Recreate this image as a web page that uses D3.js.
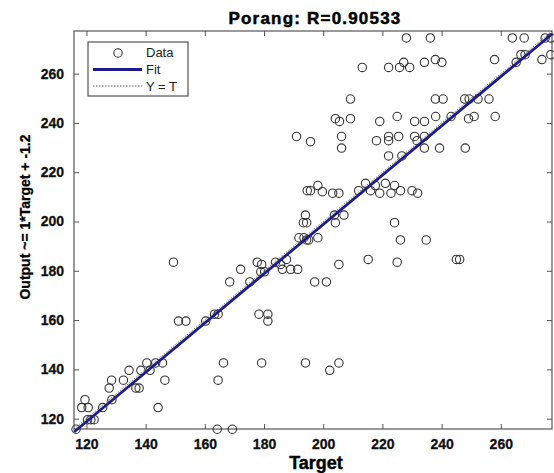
<!DOCTYPE html>
<html>
<head>
<meta charset="utf-8">
<script src="https://cdn.jsdelivr.net/npm/d3@7"></script>
<style>
  body { margin: 0; background: #fff; }
  .chart text { font-family: "Liberation Sans", Arial, sans-serif; }
</style>
</head>
<body>
<div class="chart"></div>
<script>
// values
var targets = [228.1, 236.2, 263.9, 267.9, 275, 276.9, 213.2, 222.1, 225.8, 229.2,
  227.2, 234.2, 240.1, 265.2, 237.9, 257.9, 273.9, 266.8, 268.2, 276.9,
  209.2, 237.9, 240.5, 247.8, 249.3, 252.3, 256, 204.1, 209.2, 249.1,
  205.5, 219.1, 230.9, 234.2, 225, 238, 243.2, 251, 258.1, 191,
  206.2, 222.1, 225.5, 230.9, 234.2, 218, 222.1, 231.7, 195.7, 206.2,
  234.2, 239.3, 248, 222.1, 226.6, 194.6, 195.7, 212, 216, 226.1,
  230, 198.2, 217.6, 224.1, 199.7, 203.2, 205.3, 219.1, 222.9, 231.9,
  214.3, 221, 194, 203.8, 207, 193.3, 194.4, 204.1, 224.1, 191.8,
  193.5, 198.2, 194.4, 195.1, 226.1, 234.8, 187.6, 215.2, 245, 246.1,
  149.4, 177.7, 183.9, 225, 179.2, 185.6, 205.3, 172.1, 186.2, 189,
  191.4, 178.9, 180.2, 168.4, 175.2, 197.1, 201.1, 163.3, 164.5, 178.3,
  181.3, 151.1, 153.6, 160.3, 181.3, 140.4, 143.4, 145.7, 166.3, 179.2,
  194, 205.3, 134.4, 138.4, 141.5, 202.2, 128.5, 132.5, 146.5, 164.5,
  127.7, 136.7, 137.8, 119.5, 128.6, 118.4, 120.6, 125.5, 144.2, 120.4,
  121.5, 122.6, 116.5, 164.2, 169.3];
var outputs = [274.5, 274.5, 274.5, 274.5, 274.5, 274.5, 262.5, 262.5, 262.5, 262.5,
  264.6, 264.6, 264.6, 264.6, 265.7, 265.7, 265.7, 267.7, 267.7, 267.7,
  249.7, 249.7, 249.7, 249.7, 249.7, 249.7, 249.7, 241.7, 241.7, 241.7,
  240.6, 240.6, 240.6, 240.6, 242.6, 242.6, 242.6, 242.6, 242.6, 234.5,
  234.5, 234.5, 234.5, 234.5, 234.5, 232.8, 232.8, 232.8, 232.4, 229.8,
  229.8, 229.8, 229.8, 226.6, 226.6, 212.5, 212.5, 212.5, 212.5, 212.5,
  212.5, 214.6, 214.6, 214.6, 212.1, 211.5, 211.5, 211.5, 211.5, 211.5,
  215.5, 215.5, 202.6, 202.6, 202.6, 199.5, 199.5, 199.5, 199.5, 193.4,
  193.4, 193.4, 192.5, 192.5, 192.5, 192.5, 184.6, 184.6, 184.6, 184.6,
  183.5, 183.5, 183.5, 183.5, 182.6, 182.6, 182.6, 180.6, 180.6, 180.6,
  180.6, 179.6, 179.6, 175.5, 175.5, 175.5, 175.5, 162.4, 162.4, 162.4,
  162.4, 159.6, 159.6, 159.6, 159.6, 142.6, 142.6, 142.6, 142.6, 142.6,
  142.6, 142.6, 139.6, 139.6, 139.6, 139.6, 135.6, 135.6, 135.6, 135.6,
  132.4, 132.4, 132.4, 127.7, 127.7, 124.5, 124.5, 124.5, 124.5, 119.6,
  119.6, 119.6, 115.7, 115.7, 115.7];
var tickValues = [120, 140, 160, 180, 200, 220, 240, 260];
var fitSlope = 1;
var fitOffset = -1.2;
var axisRange = [115.8, 277.3];

var svgWidth = 554;
var svgHeight = 473;
var margin = { top: 31, right: 2, bottom: 44, left: 74 };
var width = svgWidth - margin.left - margin.right;
var height = svgHeight - margin.top - margin.bottom;

var svg = d3.select(".chart")
    .append("svg")
    .attr("width", svgWidth)
    .attr("height", svgHeight);

var chartGroup = svg.append("g")
    .attr("transform", `translate(${margin.left}, ${margin.top})`);

var data = targets.map(function (t, i) { return { t: t, o: outputs[i] }; });

var xScale = d3.scaleLinear().domain(axisRange).range([0, width]);
var yScale = d3.scaleLinear().domain(axisRange).range([height, 0]);

// box with inside ticks on all four sides
function styleAxis(g) {
    g.select(".domain").remove();
    g.selectAll(".tick line").attr("stroke", "#555");
    g.selectAll(".tick text")
        .attr("font-size", "14px")
        .attr("font-weight", "bold")
        .attr("fill", "#111")
        .attr("stroke", "#111")
        .attr("stroke-width", 0.3);
}

chartGroup.append("g")
    .attr("transform", `translate(0, ${height})`)
    .call(d3.axisBottom(xScale).tickValues(tickValues).tickSizeInner(-5).tickSizeOuter(0).tickPadding(10))
    .call(styleAxis);

chartGroup.append("g")
    .call(d3.axisTop(xScale).tickValues(tickValues).tickSizeInner(-5).tickSizeOuter(0).tickFormat(""))
    .call(styleAxis);

chartGroup.append("g")
    .call(d3.axisLeft(yScale).tickValues(tickValues).tickSizeInner(-5).tickSizeOuter(0).tickPadding(10))
    .call(styleAxis);

chartGroup.append("g")
    .attr("transform", `translate(${width}, 0)`)
    .call(d3.axisRight(yScale).tickValues(tickValues).tickSizeInner(-5).tickSizeOuter(0).tickFormat(""))
    .call(styleAxis);

chartGroup.append("rect")
    .attr("width", width)
    .attr("height", height)
    .attr("fill", "none")
    .attr("stroke", "#555")
    .attr("stroke-width", 1.2);

// data points
chartGroup.selectAll("circle.pt")
    .data(data)
    .enter()
    .append("circle")
    .attr("class", "pt")
    .attr("cx", d => xScale(d.t))
    .attr("cy", d => yScale(d.o))
    .attr("r", 4.2)
    .attr("fill", "none")
    .attr("stroke", "#333")
    .attr("stroke-width", 1.1);

// fit line
chartGroup.append("line")
    .attr("x1", xScale(axisRange[0]))
    .attr("y1", yScale(fitSlope * axisRange[0] + fitOffset))
    .attr("x2", xScale(axisRange[1]))
    .attr("y2", yScale(fitSlope * axisRange[1] + fitOffset))
    .attr("stroke", "#1c1c8c")
    .attr("stroke-width", 2.8);

// Y = T line
chartGroup.append("line")
    .attr("x1", xScale(axisRange[0]))
    .attr("y1", yScale(axisRange[0]))
    .attr("x2", xScale(axisRange[1]))
    .attr("y2", yScale(axisRange[1]))
    .attr("stroke", "#333")
    .attr("stroke-width", 0.7)
    .attr("stroke-dasharray", "1.5,1.5");

// legend
var legend = svg.append("g").attr("transform", "translate(88, 42)");
legend.append("rect")
    .attr("width", 100)
    .attr("height", 54)
    .attr("fill", "#fff")
    .attr("stroke", "#333")
    .attr("stroke-width", 1);
legend.append("circle")
    .attr("cx", 30).attr("cy", 11).attr("r", 4.2)
    .attr("fill", "none").attr("stroke", "#333").attr("stroke-width", 1.1);
legend.append("line")
    .attr("x1", 5).attr("x2", 54).attr("y1", 27.5).attr("y2", 27.5)
    .attr("stroke", "#1c1c8c").attr("stroke-width", 2.8);
legend.append("line")
    .attr("x1", 5).attr("x2", 54).attr("y1", 44).attr("y2", 44)
    .attr("stroke", "#333").attr("stroke-width", 0.8).attr("stroke-dasharray", "1.5,1.5");
var legendLabels = ["Data", "Fit", "Y = T"];
legend.selectAll("text.lg")
    .data(legendLabels)
    .enter()
    .append("text")
    .attr("x", 58)
    .attr("y", (d, i) => 15 + i * 17)
    .attr("font-size", "13px")
    .attr("fill", "#222")
    .text(d => d);

// title and axis labels
svg.append("text")
    .attr("x", margin.left + width / 2 + 2)
    .attr("y", 24)
    .attr("text-anchor", "middle")
    .attr("font-size", "17px")
    .attr("font-weight", "bold")
    .attr("letter-spacing", "1.2px")
    .attr("stroke", "#000")
    .attr("stroke-width", 0.5)
    .text("Porang: R=0.90533");

svg.append("text")
    .attr("x", margin.left + width / 2 + 3)
    .attr("y", 469)
    .attr("text-anchor", "middle")
    .attr("font-size", "18px")
    .attr("font-weight", "bold")
    .attr("stroke", "#000")
    .attr("stroke-width", 0.4)
    .text("Target");

svg.append("text")
    .attr("transform", "translate(30, 217) rotate(-90)")
    .attr("text-anchor", "middle")
    .attr("font-size", "14px")
    .attr("font-weight", "bold")
    .attr("stroke", "#000")
    .attr("stroke-width", 0.3)
    .text("Output ~= 1*Target + -1.2");
</script>
</body>
</html>
